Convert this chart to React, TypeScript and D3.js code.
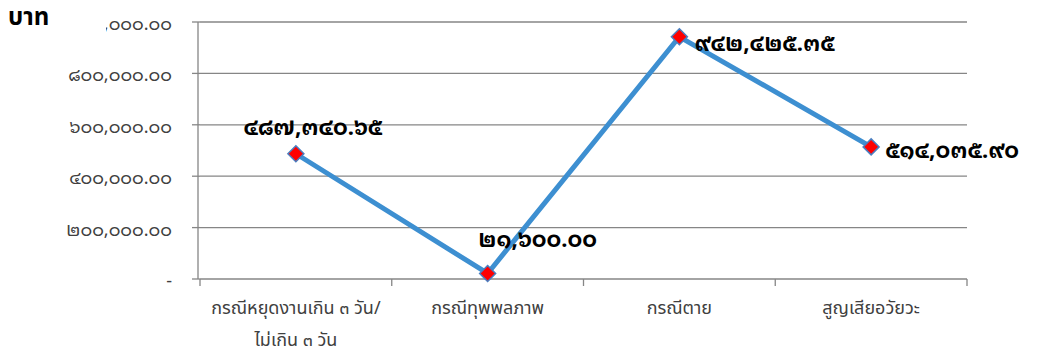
import React from "react";
import * as d3 from "d3";

const categories: string[][] = [
  ["กรณีหยุดงานเกิน ๓ วัน/", "ไม่เกิน ๓ วัน"],
  ["กรณีทุพพลภาพ"],
  ["กรณีตาย"],
  ["สูญเสียอวัยวะ"],
];
const values: number[] = [487340.65, 21600.0, 942425.35, 514035.9];
const valueLabels: string[] = ["๔๘๗,๓๔๐.๖๕", "๒๑,๖๐๐.๐๐", "๙๔๒,๔๒๕.๓๕", "๕๑๔,๐๓๕.๙๐"];
const yTicks: number[] = [0, 200000, 400000, 600000, 800000, 1000000];
const yTickLabels: string[] = ["-", "๒๐๐,๐๐๐.๐๐", "๔๐๐,๐๐๐.๐๐", "๖๐๐,๐๐๐.๐๐", "๘๐๐,๐๐๐.๐๐", "๑,๐๐๐,๐๐๐.๐๐"];
const yTitle = "บาท";

export default function App() {
  const W = 1037, H = 354;
  const left = 200, right = 967, top = 22, bottom = 279;
  const x = d3.scaleBand<number>().domain(d3.range(categories.length)).range([left, right]);
  const y = d3.scaleLinear().domain([0, 1000000]).range([bottom, top]);
  const line = d3.line<number>().x((_, i) => x(i)! + x.bandwidth() / 2).y((d) => y(d));
  const numFont = "'Noto Sans Thai Looped', sans-serif";
  const txtFont = "'Noto Sans Thai', sans-serif";
  const labelPos = [
    { dx: 17, dy: -19, anchor: "middle" },
    { dx: 50, dy: -26, anchor: "middle" },
    { dx: 15, dy: 14, anchor: "start" },
    { dx: 14, dy: 11, anchor: "start" },
  ];
  const boundaries = d3.range(categories.length + 1).map((i) => left + i * x.bandwidth());
  return (
    <div style={{ position: "absolute", left: 0, top: 0 }}>
      <svg width={W} height={H} style={{ display: "block", background: "#fff" }}>
        <defs>
          <clipPath id="topclip">
            <rect x={106} y={0} width={200} height={60} />
          </clipPath>
        </defs>
        {yTicks.map((t, i) => (
          <g key={i}>
            <line x1={left} x2={right} y1={y(t)} y2={y(t)} stroke="#868686" strokeWidth={1.3} />
            <line x1={192} x2={left} y1={y(t)} y2={y(t)} stroke="#868686" strokeWidth={1.3} />
            <text
              x={172}
              y={y(t) + 8}
              textAnchor="end"
              fontSize={18}
              fontFamily={numFont}
              fill="#404040"
              clipPath={i === yTicks.length - 1 ? "url(#topclip)" : undefined}
            >
              {yTickLabels[i]}
            </text>
          </g>
        ))}
        <line x1={left - 2} x2={left - 2} y1={top} y2={bottom} stroke="#868686" strokeWidth={1.3} />
        {boundaries.map((bx, i) => (
          <line key={i} x1={bx} x2={bx} y1={bottom} y2={bottom + 7} stroke="#868686" strokeWidth={1.3} />
        ))}
        {categories.map((lines, i) => (
          <text key={i} textAnchor="middle" fontSize={18} fontFamily={txtFont} fill="#404040">
            {lines.map((l, j) => (
              <tspan key={j} x={x(i)! + x.bandwidth() / 2} y={314 + j * 32}>
                {l}
              </tspan>
            ))}
          </text>
        ))}
        <path d={line(values) || ""} fill="none" stroke="#3d8fd1" strokeWidth={5} strokeLinejoin="round" />
        {values.map((v, i) => {
          const cx = x(i)! + x.bandwidth() / 2;
          const cy = y(v);
          const s = 8;
          return (
            <path
              key={i}
              d={`M${cx},${cy - s}L${cx + s},${cy}L${cx},${cy + s}L${cx - s},${cy}Z`}
              fill="#ff0000"
              stroke="#4a7ec0"
              strokeWidth={1.5}
            />
          );
        })}
        {values.map((v, i) => (
          <text
            key={i}
            x={x(i)! + x.bandwidth() / 2 + labelPos[i].dx}
            y={y(v) + labelPos[i].dy}
            textAnchor={labelPos[i].anchor as any}
            fontSize={22}
            fontFamily={numFont}
            fontWeight="bold"
            fill="#000"
          >
            {valueLabels[i]}
          </text>
        ))}
        <text x={8} y={25} fontSize={24} fontFamily={txtFont} fontWeight="bold" fill="#000">
          {yTitle}
        </text>
      </svg>
    </div>
  );
}
